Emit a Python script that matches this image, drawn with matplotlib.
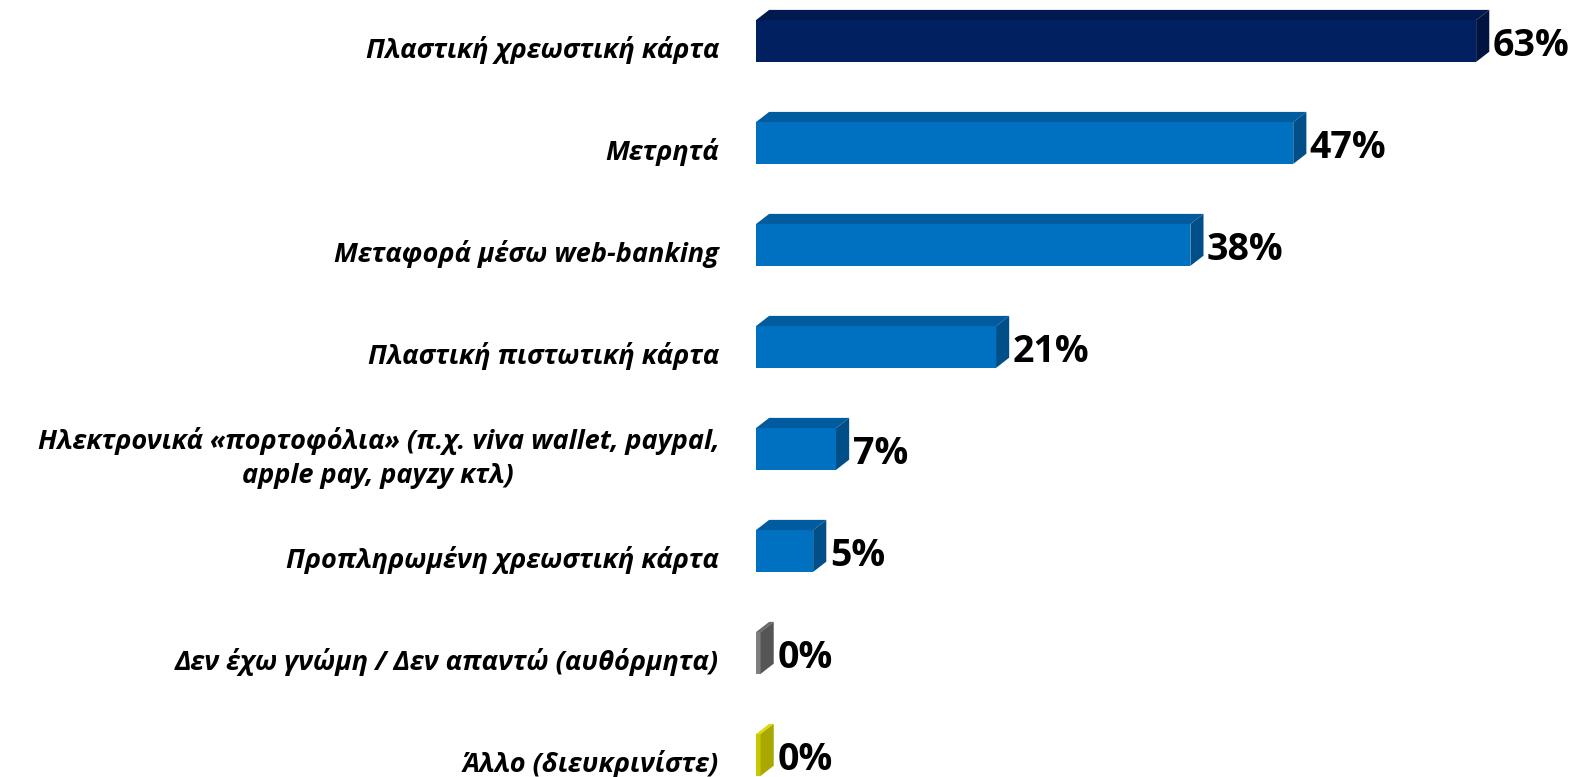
import matplotlib
matplotlib.use("Agg")
import matplotlib.pyplot as plt
from matplotlib.patches import Polygon
from matplotlib.transforms import offset_copy

categories = ["Πλαστική χρεωστική κάρτα", "Μετρητά", "Μεταφορά μέσω web-banking",
              "Πλαστική πιστωτική κάρτα",
              "Ηλεκτρονικά «πορτοφόλια» (π.χ. viva wallet, paypal,\napple pay, payzy κτλ)",
              "Προπληρωμένη χρεωστική κάρτα", "Δεν έχω γνώμη / Δεν απαντώ (αυθόρμητα)",
              "Άλλο (διευκρινίστε)"]
values = [63, 47, 38, 21, 7, 5, 0.4, 0.4]
# front, top, side colours per bar
front = ["#002060", "#0070C0", "#0070C0", "#0070C0", "#0070C0", "#0070C0", "#7F7F7F", "#C8C800"]
top = ["#001A4F", "#005C9E", "#005C9E", "#005C9E", "#005C9E", "#005C9E", "#6A6A6A", "#DADA10"]
side = ["#00143F", "#004F88", "#004F88", "#004F88", "#004F88", "#004F88", "#555555", "#A8A800"]

plt.rcParams["font.family"] = ["Open Sans", "DejaVu Sans"]
fig = plt.figure(figsize=(15.75, 7.77), dpi=100)
ax = fig.add_axes([756 / 1575, 0, 1 - 756 / 1575, 1])
ax.set_xlim(0, 71.65)
ax.set_ylim(7.216, -0.402)
ax.axis("off")

h = 0.41          # bar height (front face)
dx, dy = 1.15, 0.1  # depth offset

for i, v in enumerate(values):
    y0, y1 = i - h / 2, i + h / 2
    ax.add_patch(Polygon([(0, y0), (v, y0), (v, y1), (0, y1)], closed=True,
                         facecolor=front[i], edgecolor="none", zorder=2))
    ax.add_patch(Polygon([(0, y0), (v, y0), (v + dx, y0 - dy), (dx, y0 - dy)], closed=True,
                         facecolor=top[i], edgecolor="none", zorder=2))
    ax.add_patch(Polygon([(v, y0), (v + dx, y0 - dy), (v + dx, y1 - dy), (v, y1)], closed=True,
                         facecolor=side[i], edgecolor="none", zorder=2))
    ax.text(v + dx + 0.3, i + 0.05, f"{v:.0f}%", ha="left", va="center",
            fontsize=27, fontweight="bold", color="black")

lab_tr = offset_copy(ax.transData, fig=fig, x=-37, y=-9, units="dots")
for i, c in enumerate(categories):
    ax.text(0, i, c, transform=lab_tr, ha="right", va="center", multialignment="center",
            fontsize=19.5, fontweight="bold", fontstyle="italic", color="black",
            linespacing=1.4, clip_on=False)

fig.savefig("out.png", dpi=100)
